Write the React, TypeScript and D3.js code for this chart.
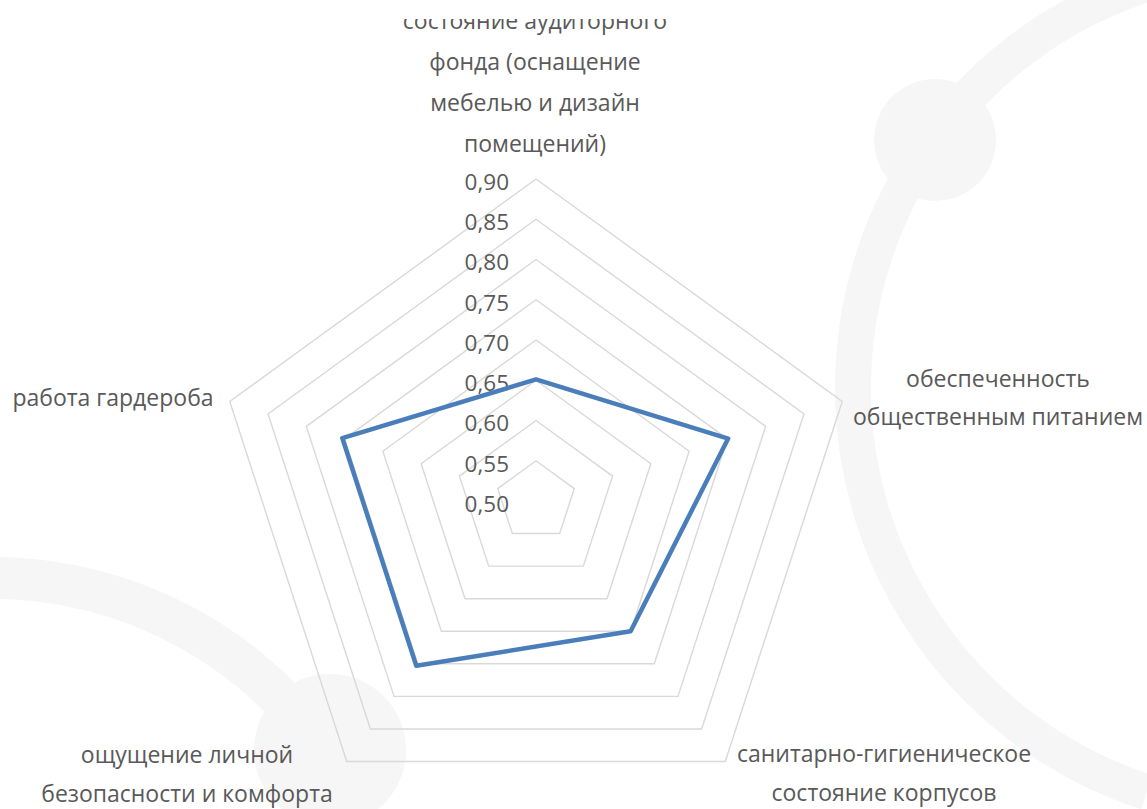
import React from "react";
import * as d3 from "d3";

const categories = [
  "состояние аудиторного фонда (оснащение мебелью и дизайн помещений)",
  "обеспеченность общественным питанием",
  "санитарно-гигиеническое состояние корпусов",
  "ощущение личной безопасности и комфорта",
  "работа гардероба",
];
const categoryLines = [
  ["состояние аудиторного", "фонда (оснащение", "мебелью и дизайн", "помещений)"],
  ["обеспеченность", "общественным питанием"],
  ["санитарно-гигиеническое", "состояние корпусов"],
  ["ощущение личной", "безопасности и комфорта"],
  ["работа гардероба"],
];
const values = [0.651, 0.751, 0.7, 0.753, 0.753];
const ticks = [0.5, 0.55, 0.6, 0.65, 0.7, 0.75, 0.8, 0.85, 0.9];

const W = 1147;
const H = 809;
const cx = 536;
const cy = 501;
const R = 322;

// label layout: [anchor x, first baseline y, line step]
const labelPos: [number, number, number][] = [
  [535, 28.5, 41.2],
  [998, 387, 38],
  [884, 762, 39],
  [187, 763, 39],
  [113, 406, 40],
];

export default function App() {
  const r = d3.scaleLinear().domain([0.5, 0.9]).range([0, R]);
  const angle = d3
    .scaleLinear()
    .domain([0, categories.length])
    .range([0, 2 * Math.PI]);
  const pt = (i: number, v: number): [number, number] => {
    const a = angle(i);
    return [cx + r(v) * Math.sin(a), cy - r(v) * Math.cos(a)];
  };
  const closed = d3.line().curve(d3.curveLinearClosed);
  const rings = ticks.slice(1).map((t) =>
    closed(categories.map((_, i) => pt(i, t)))
  );
  const dataPath = closed(values.map((v, i) => pt(i, v)));
  const fmt = (v: number) => d3.format(".2f")(v).replace(".", ",");
  const font = "'Open Sans', 'Noto Sans', sans-serif";

  // background decorative arcs
  const arcRight = d3.arc()({
    innerRadius: 407,
    outerRadius: 443,
    startAngle: -Math.PI * 0.1,
    endAngle: -Math.PI * 0.9,
  } as any);
  const arcLeft = d3.arc()({
    innerRadius: 386,
    outerRadius: 428,
    startAngle: -Math.PI * 0.02,
    endAngle: Math.PI * 0.3,
  } as any);

  return (
    <svg
      width={W}
      height={H}
      style={{ position: "absolute", left: 0, top: 0, background: "#fff" }}
    >
      <defs>
        <clipPath id="chartClip">
          <rect x={0} y={19} width={W} height={H - 19} />
        </clipPath>
      </defs>
      <g fill="#f6f6f6">
        <path d={arcRight || ""} transform="translate(1278,388)" />
        <circle cx={935} cy={140} r={61} />
        <path d={arcLeft || ""} transform="translate(-8,985)" />
        <circle cx={330} cy={750} r={76} />
      </g>
      <g fill="none" stroke="#d9d9d9" strokeWidth={1.4}>
        {rings.map((d, i) => (
          <path key={i} d={d || ""} />
        ))}
      </g>
      <g fontFamily={font} fontSize={22.5} fill="#595959" textAnchor="end">
        {ticks.map((t) => (
          <text key={t} x={509} y={cy - r(t) + 3} dy="0.35em">
            {fmt(t)}
          </text>
        ))}
      </g>
      <path
        d={dataPath || ""}
        fill="none"
        stroke="#4a7ebb"
        strokeWidth={4.5}
        strokeLinejoin="round"
      />
      <g
        fontFamily={font}
        fontSize={23}
        fill="#595959"
        textAnchor="middle"
        clipPath="url(#chartClip)"
      >
        {categoryLines.map((lines, i) => (
          <text key={i}>
            {lines.map((ln, j) => (
              <tspan
                key={j}
                x={labelPos[i][0]}
                y={labelPos[i][1] + j * labelPos[i][2]}
              >
                {ln}
              </tspan>
            ))}
          </text>
        ))}
      </g>
    </svg>
  );
}
